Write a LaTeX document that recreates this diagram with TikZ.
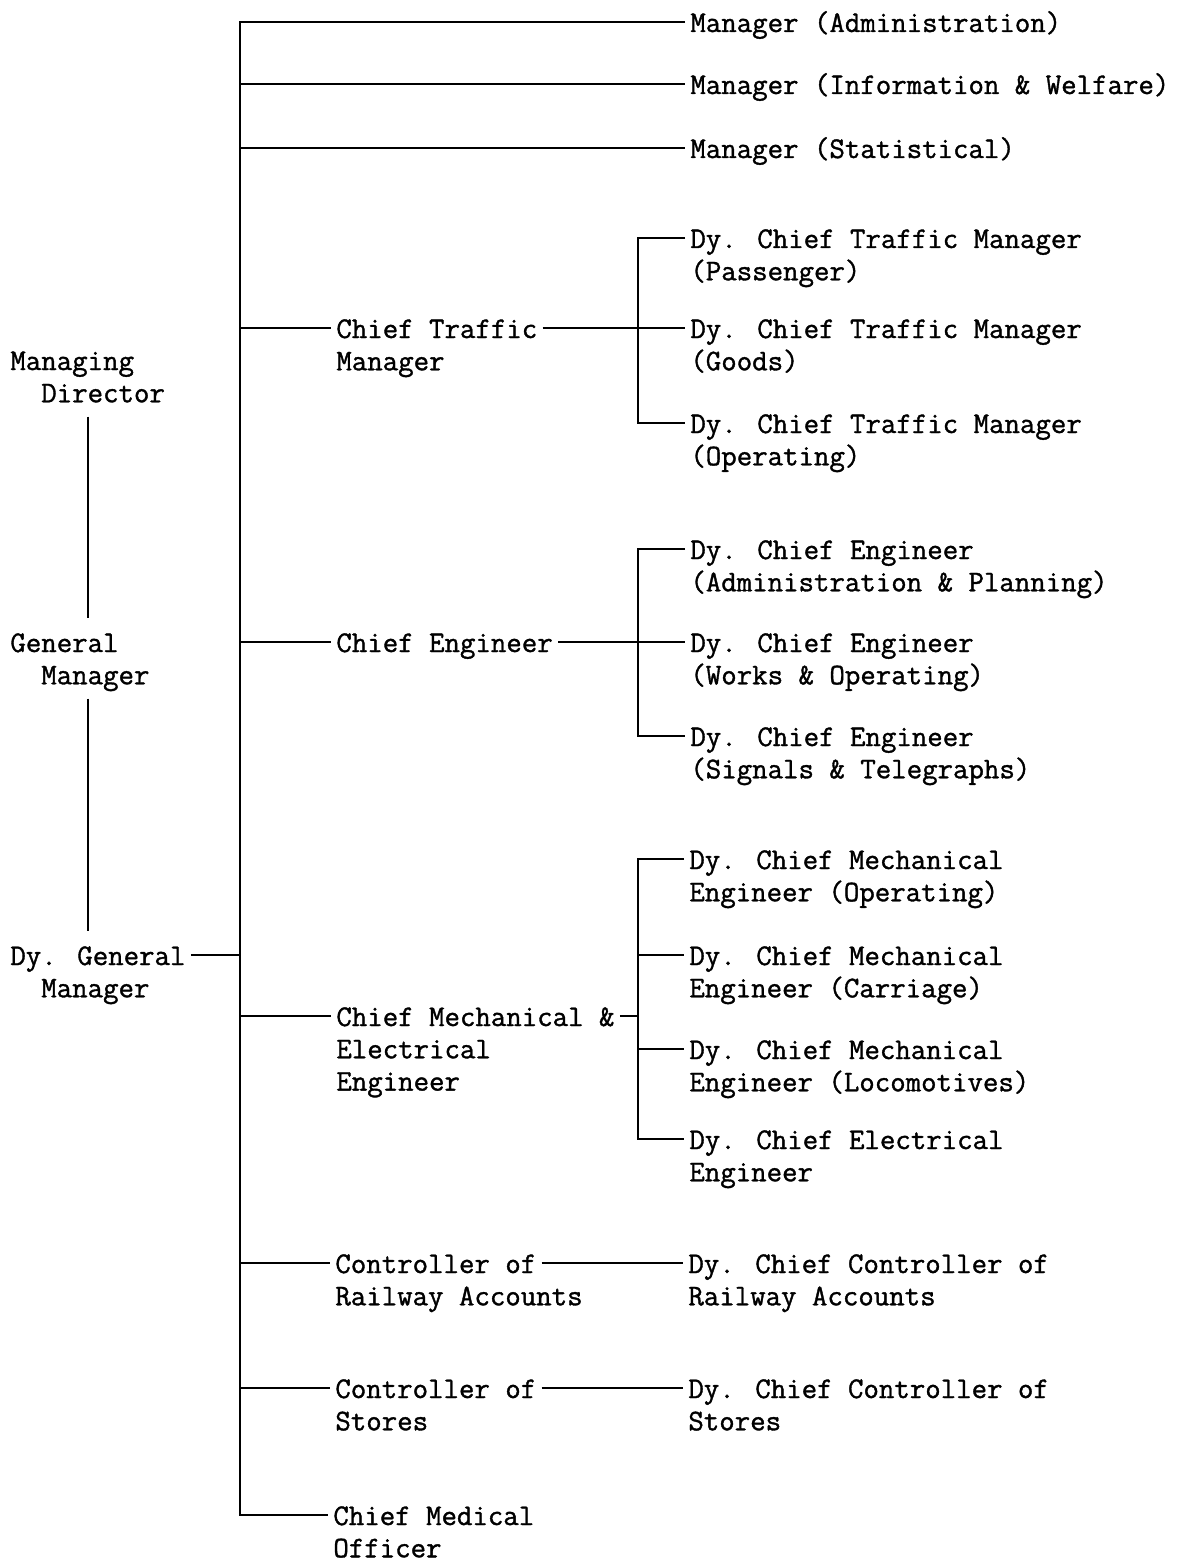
\documentclass[tikz,border=0pt]{standalone}
\usepackage{fontspec}
\newfontfamily\typer{Latin Modern Mono}[FakeBold=1.2]
\usetikzlibrary{positioning}
\tikzset{
    post/.style={
        font=\fontsize{15pt}{15.75pt}\selectfont\typer,
        anchor=west,
        inner xsep=2.5pt,
        inner ysep=0pt,
        text height=10pt,
        text depth=0pt
    },
    more/.style={post, below=5.75pt of #1.south west, anchor=north west},
    link/.style={line width=1.1pt},
    rank/.style={link, shorten <=7pt, shorten >=7pt}
}

\begin{document}
\begin{tikzpicture}[x=0.5pt,y=-0.5pt]
\useasboundingbox (0,0) rectangle (1177,1562);
\coordinate (bus) at (240,0);
\coordinate (sb) at (638,0);

% left column
\node[post] (md) at (5,360) {Managing};
\node[more=md] (mdb) {\phantom{MM}Director};
\node[post] (gm) at (5,642) {General};
\node[more=gm] (gmb) {\phantom{MM}Manager};
\node[post] (dgm) at (5,955) {Dy. General};
\node[more=dgm] (dgmb) {\phantom{MM}Manager};

% managers
\node[post] (adm) at (685,22) {Manager (Administration)};
\node[post] (inf) at (685,84) {Manager (Information \& Welfare)};
\node[post] (sta) at (685,148) {Manager (Statistical)};

% traffic
\node[post] (ctm) at (331,328) {Chief Traffic};
\node[more=ctm] {Manager};
\node[post] (dct1) at (685,238) {Dy. Chief Traffic Manager};
\node[more=dct1] {(Passenger)};
\node[post] (dct2) at (685,328) {Dy. Chief Traffic Manager};
\node[more=dct2] {(Goods)};
\node[post] (dct3) at (685,423) {Dy. Chief Traffic Manager};
\node[more=dct3] {(Operating)};

% engineering
\node[post] (ce) at (331,642) {Chief Engineer};
\node[post] (dce1) at (685,549) {Dy. Chief Engineer};
\node[more=dce1] {(Administration \& Planning)};
\node[post] (dce2) at (685,642) {Dy. Chief Engineer};
\node[more=dce2] {(Works \& Operating)};
\node[post] (dce3) at (685,736) {Dy. Chief Engineer};
\node[more=dce3] {(Signals \& Telegraphs)};

% mechanical & electrical
\node[post] (cme) at (331,1016) {Chief Mechanical \&};
\node[more=cme] (cmeb) {Electrical};
\node[more=cmeb] {Engineer};
\node[post] (dcm1) at (684,859) {Dy. Chief Mechanical};
\node[more=dcm1] {Engineer (Operating)};
\node[post] (dcm2) at (684,955) {Dy. Chief Mechanical};
\node[more=dcm2] {Engineer (Carriage)};
\node[post] (dcm3) at (684,1049) {Dy. Chief Mechanical};
\node[more=dcm3] {Engineer (Locomotives)};
\node[post] (dcm4) at (684,1139) {Dy. Chief Electrical};
\node[more=dcm4] {Engineer};

% accounts, stores, medical
\node[post] (cra) at (330,1263) {Controller of};
\node[more=cra] {Railway Accounts};
\node[post] (dcra) at (683,1263) {Dy. Chief Controller of};
\node[more=dcra] {Railway Accounts};
\node[post] (cs) at (330,1388) {Controller of};
\node[more=cs] {Stores};
\node[post] (dcs) at (683,1388) {Dy. Chief Controller of};
\node[more=dcs] {Stores};
\node[post] (cmo) at (328,1515) {Chief Medical};
\node[more=cmo] {Officer};

% lines
\draw[rank] (mdb.south) -- (mdb.south |- gm.north);
\draw[rank] (mdb.south |- gmb.south) -- (mdb.south |- dgm.north);
\draw[link] (dgm.east) -- (bus |- dgm.east);
\draw[link] (adm.west) -- (bus |- adm.west) -- (bus |- cmo.west) -- (cmo.west);
\foreach \n in {inf,sta,ctm,ce,cme,cra,cs}
    \draw[link] (bus |- \n.west) -- (\n.west);

\draw[link] (dct1.west) -- (sb |- dct1.west) -- (sb |- dct3.west) -- (dct3.west);
\draw[link] (ctm.east) -- (dct2.west);
\draw[link] (dce1.west) -- (sb |- dce1.west) -- (sb |- dce3.west) -- (dce3.west);
\draw[link] (ce.east) -- (dce2.west);
\draw[link] (dcm1.west) -- (sb |- dcm1.west) -- (sb |- dcm4.west) -- (dcm4.west);
\foreach \n in {dcm2,dcm3}
    \draw[link] (sb |- \n.west) -- (\n.west);
\draw[link] (cme.east) -- (sb |- cme.east);
\draw[link] (cra.east) -- (dcra.west);
\draw[link] (cs.east) -- (dcs.west);
\end{tikzpicture}
\end{document}
